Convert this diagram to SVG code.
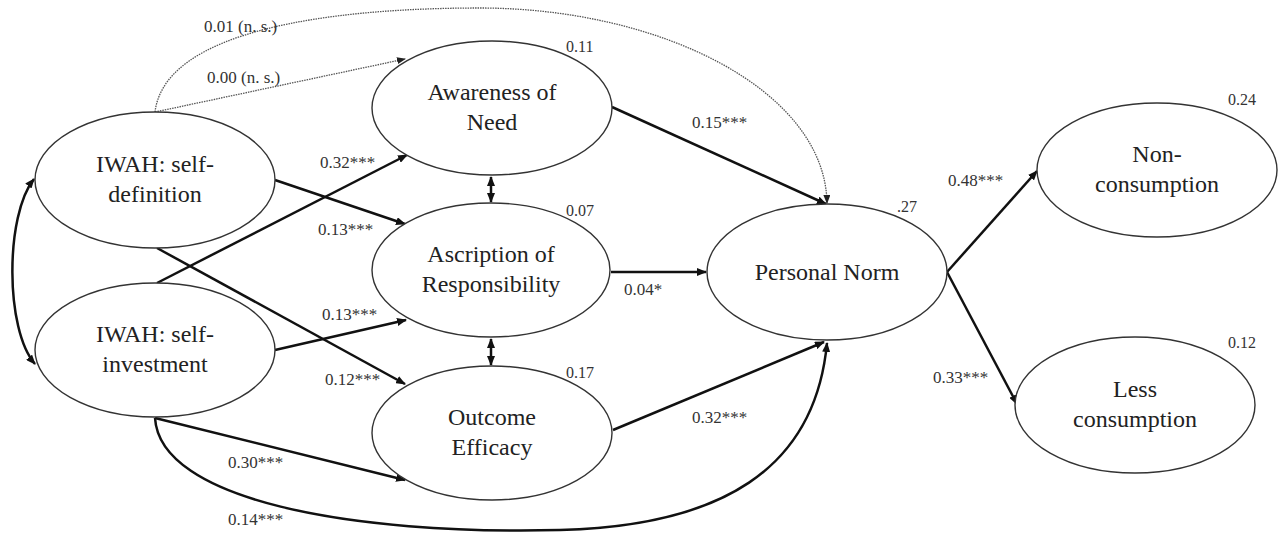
<svg xmlns="http://www.w3.org/2000/svg" width="1285" height="534" viewBox="0 0 1285 534" font-family="'Liberation Serif', 'DejaVu Serif', 'Times New Roman', serif">
<style>
.node ellipse{fill:#fff;stroke:#333;stroke-width:1.4}
.node text{font-family:'Liberation Serif','DejaVu Serif','Times New Roman',serif;font-size:24px;fill:#222;text-anchor:middle}
.r2{font-family:'Liberation Serif','DejaVu Serif','Times New Roman',serif;font-size:16px;fill:#333}
.lbl{font-family:'Liberation Serif','DejaVu Serif','Times New Roman',serif;font-size:17px;fill:#333}
.edge{fill:none;stroke:#111;stroke-width:2.5;marker-end:url(#ah)}
.dbl{fill:none;stroke:#111;stroke-width:2.5;marker-start:url(#ah);marker-end:url(#ah)}
.dot{fill:none;stroke:#555;stroke-width:1.3;stroke-dasharray:1.5 1;marker-end:url(#ahs)}
</style>
<defs>
<marker id="ah" markerUnits="userSpaceOnUse" markerWidth="10" markerHeight="8" refX="9" refY="4" orient="auto-start-reverse"><path d="M0,0 L10,4 L0,8 z" fill="#111"/></marker>
<marker id="ahs" markerUnits="userSpaceOnUse" markerWidth="9" markerHeight="7" refX="8" refY="3.5" orient="auto"><path d="M0,0 L9,3.5 L0,7 z" fill="#222"/></marker>
</defs>
<rect width="1285" height="534" fill="#fff"/>
<g id="connectors">
<path class="dot" d="M155,112 C165,30 330,8 480,8 C660,8 825,90 827,203"/>
<path class="dot" d="M155,112 L405,59"/>
<path class="edge" d="M157,283 L407,155"/>
<path class="edge" d="M275,180 L405,224"/>
<path class="edge" d="M157,248 L405,384"/>
<path class="edge" d="M275,350 L406,320"/>
<path class="edge" d="M155,418 L405,480"/>
<path class="edge" d="M155,418 C160,500 350,535 560,530 C720,526 815,470 827,343"/>
<path class="dbl" d="M34,179 C5,215 5,330 35,364"/>
<path class="dbl" d="M491,177 L491,202"/>
<path class="dbl" d="M491,339 L491,365"/>
<path class="edge" d="M612,107 L826,204"/>
<path class="edge" d="M611,272 L706,272"/>
<path class="edge" d="M613,430 L824,342"/>
<path class="edge" d="M947,272 L1037,171"/>
<path class="edge" d="M947,272 L1017,404"/>
</g>
<g id="n-selfdef" class="node"><ellipse cx="155" cy="180" rx="120" ry="68"/><text x="155" y="172">IWAH: self-</text><text x="155" y="202">definition</text></g>
<g id="n-selfinv" class="node"><ellipse cx="155" cy="350" rx="120" ry="67"/><text x="155" y="342">IWAH: self-</text><text x="155" y="372">investment</text></g>
<g id="n-awareness" class="node"><ellipse cx="492" cy="108" rx="120" ry="67"/><text x="492" y="100">Awareness of</text><text x="492" y="130">Need</text></g>
<g id="n-ascription" class="node"><ellipse cx="491" cy="270" rx="119" ry="67"/><text x="491" y="262">Ascription of</text><text x="491" y="292">Responsibility</text></g>
<g id="n-outcome" class="node"><ellipse cx="492" cy="433" rx="120" ry="67"/><text x="492" y="425">Outcome</text><text x="492" y="455">Efficacy</text></g>
<g id="n-norm" class="node"><ellipse cx="827" cy="272" rx="120" ry="68"/><text x="827" y="280">Personal Norm</text></g>
<g id="n-noncons" class="node"><ellipse cx="1157" cy="170" rx="120" ry="67"/><text x="1157" y="162">Non-</text><text x="1157" y="192">consumption</text></g>
<g id="n-lesscons" class="node"><ellipse cx="1135" cy="405" rx="120" ry="68"/><text x="1135" y="397">Less</text><text x="1135" y="427">consumption</text></g>
<g id="r2-labels">
<text class="r2" x="566" y="52">0.11</text>
<text class="r2" x="566" y="216">0.07</text>
<text class="r2" x="566" y="378">0.17</text>
<text class="r2" x="897" y="212">.27</text>
<text class="r2" x="1228" y="105">0.24</text>
<text class="r2" x="1228" y="348">0.12</text>
</g>
<g id="edge-labels">
<text class="lbl" x="204" y="32">0.01 (n. s.)</text>
<text class="lbl" x="207" y="83">0.00 (n. s.)</text>
<text class="lbl" x="320" y="168">0.32***</text>
<text class="lbl" x="318" y="235">0.13***</text>
<text class="lbl" x="322" y="320">0.13***</text>
<text class="lbl" x="325" y="385">0.12***</text>
<text class="lbl" x="228" y="468">0.30***</text>
<text class="lbl" x="228" y="525">0.14***</text>
<text class="lbl" x="692" y="128">0.15***</text>
<text class="lbl" x="624" y="295">0.04*</text>
<text class="lbl" x="692" y="423">0.32***</text>
<text class="lbl" x="948" y="186">0.48***</text>
<text class="lbl" x="933" y="383">0.33***</text>
</g>
</svg>
